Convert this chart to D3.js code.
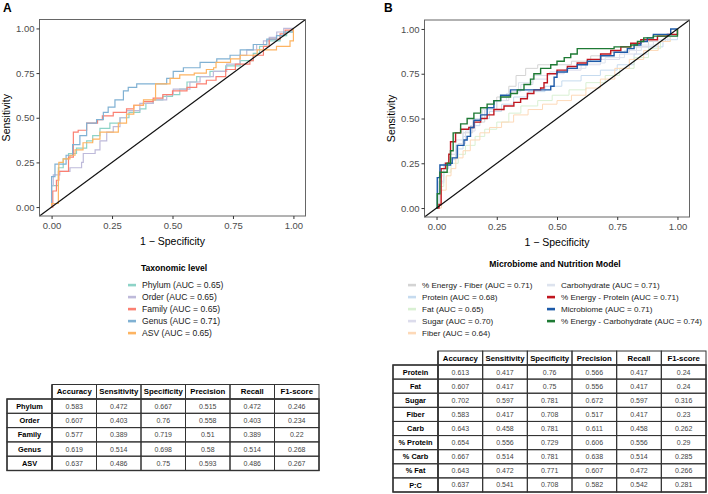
<!DOCTYPE html>
<html>
<head>
<meta charset="utf-8">
<script src="https://cdn.jsdelivr.net/npm/d3@7"></script>
<style>
  body { margin: 0; background: #fff; }
  svg { font-family: "Liberation Sans", Arial, sans-serif; }
</style>
</head>
<body>
<div id="chart"></div>
<script>
// ---- panel A : taxonomic level ROC curves ([fpr, tpr] step corners)
const phylum = [[0,0],[0,0.12],[0.028,0.22],[0.048,0.27],[0.07,0.30],[0.103,0.33],[0.145,0.37],[0.17,0.40],[0.2,0.44],[0.241,0.47],[0.283,0.50],[0.32,0.53],[0.365,0.55],[0.39,0.58],[0.42,0.60],[0.46,0.62],[0.5,0.63],[0.53,0.66],[0.56,0.70],[0.6,0.73],[0.655,0.76],[0.72,0.79],[0.78,0.82],[0.834,0.86],[0.86,0.9],[0.9,0.93],[0.945,0.96],[0.972,0.98],[1,1]];
const order = [[0,0],[0,0.12],[0.007,0.18],[0.034,0.2],[0.076,0.22],[0.124,0.25],[0.131,0.3],[0.18,0.32],[0.2,0.37],[0.228,0.42],[0.255,0.45],[0.283,0.50],[0.31,0.54],[0.365,0.58],[0.42,0.60],[0.476,0.63],[0.503,0.66],[0.572,0.70],[0.614,0.73],[0.669,0.76],[0.724,0.80],[0.779,0.85],[0.807,0.88],[0.848,0.91],[0.876,0.93],[0.9,0.95],[0.931,0.98],[0.96,1],[1,1]];
const family = [[0,0],[0.005,0.09],[0.02,0.15],[0.03,0.2],[0.07,0.28],[0.09,0.42],[0.11,0.43],[0.145,0.47],[0.19,0.49],[0.21,0.51],[0.255,0.53],[0.31,0.55],[0.34,0.57],[0.38,0.59],[0.42,0.61],[0.46,0.63],[0.5,0.65],[0.56,0.67],[0.6,0.69],[0.64,0.71],[0.68,0.73],[0.72,0.77],[0.76,0.80],[0.82,0.82],[0.834,0.85],[0.876,0.90],[0.9,0.94],[0.945,0.97],[0.966,0.99],[1,1]];
const genus = [[0,0],[0,0.17],[0.014,0.24],[0.06,0.29],[0.087,0.35],[0.117,0.40],[0.145,0.47],[0.186,0.49],[0.214,0.53],[0.234,0.56],[0.262,0.60],[0.297,0.65],[0.317,0.67],[0.352,0.69],[0.476,0.72],[0.503,0.76],[0.545,0.78],[0.614,0.81],[0.683,0.83],[0.738,0.85],[0.78,0.88],[0.834,0.91],[0.89,0.94],[0.93,0.96],[0.96,0.98],[1,1]];
const asv = [[0,0],[0,0.02],[0.028,0.2],[0.03,0.25],[0.048,0.27],[0.076,0.29],[0.097,0.32],[0.13,0.36],[0.17,0.38],[0.2,0.42],[0.276,0.47],[0.31,0.52],[0.34,0.57],[0.38,0.6],[0.43,0.69],[0.49,0.72],[0.53,0.74],[0.59,0.75],[0.64,0.77],[0.67,0.78],[0.68,0.81],[0.74,0.83],[0.78,0.85],[0.85,0.88],[0.93,0.90],[0.986,0.93],[1,1]];

const namesA = ["Phylum (AUC = 0.65)", "Order (AUC = 0.65)", "Family (AUC = 0.65)", "Genus (AUC = 0.71)", "ASV (AUC = 0.65)"];
const colorsA = ["#8dd3c7", "#bebada", "#fb8072", "#80b1d3", "#fdb462"];

// ---- panel B : microbiome and nutrition models
const energyFiber = [[0,0],[0.01,0.15],[0.02,0.22],[0.05,0.28],[0.08,0.35],[0.11,0.42],[0.15,0.48],[0.2,0.55],[0.25,0.62],[0.3,0.68],[0.33,0.74],[0.37,0.78],[0.42,0.8],[0.48,0.8],[0.56,0.82],[0.64,0.85],[0.72,0.87],[0.8,0.9],[0.88,0.93],[0.95,0.96],[1,1]];
const protein = [[0,0],[0.01,0.15],[0.03,0.22],[0.05,0.27],[0.08,0.33],[0.11,0.4],[0.14,0.46],[0.18,0.5],[0.22,0.54],[0.27,0.58],[0.32,0.62],[0.38,0.65],[0.45,0.68],[0.52,0.71],[0.6,0.74],[0.68,0.77],[0.75,0.8],[0.82,0.86],[0.88,0.9],[0.94,0.94],[1,1]];
const fat = [[0,0],[0.01,0.12],[0.03,0.2],[0.06,0.25],[0.09,0.3],[0.12,0.35],[0.16,0.4],[0.2,0.44],[0.25,0.48],[0.3,0.53],[0.35,0.57],[0.42,0.6],[0.48,0.63],[0.55,0.66],[0.62,0.7],[0.7,0.74],[0.76,0.78],[0.82,0.84],[0.88,0.89],[0.93,0.93],[0.97,0.96],[1,1]];
const sugar = [[0,0],[0.01,0.14],[0.03,0.24],[0.06,0.3],[0.09,0.36],[0.12,0.43],[0.16,0.5],[0.2,0.55],[0.25,0.6],[0.3,0.65],[0.35,0.69],[0.4,0.72],[0.46,0.75],[0.53,0.77],[0.6,0.8],[0.68,0.83],[0.76,0.86],[0.83,0.9],[0.9,0.93],[0.96,0.96],[1,1]];
const fiber = [[0,0],[0.02,0.1],[0.04,0.18],[0.06,0.22],[0.08,0.28],[0.11,0.32],[0.14,0.38],[0.18,0.42],[0.22,0.45],[0.27,0.48],[0.32,0.52],[0.38,0.55],[0.44,0.58],[0.5,0.6],[0.56,0.63],[0.62,0.67],[0.68,0.72],[0.74,0.78],[0.8,0.83],[0.86,0.88],[0.92,0.93],[0.97,0.97],[1,1]];
const carbohydrate = [[0,0],[0.01,0.18],[0.03,0.25],[0.05,0.3],[0.08,0.38],[0.11,0.44],[0.15,0.5],[0.19,0.55],[0.24,0.6],[0.29,0.64],[0.34,0.7],[0.4,0.74],[0.47,0.76],[0.54,0.78],[0.62,0.81],[0.7,0.84],[0.78,0.88],[0.85,0.91],[0.92,0.94],[0.97,0.97],[1,1]];
const energyProtein = [[0,0],[0.01,0.02],[0.019,0.22],[0.037,0.25],[0.051,0.3],[0.058,0.37],[0.079,0.42],[0.1,0.44],[0.134,0.45],[0.155,0.48],[0.183,0.5],[0.21,0.52],[0.238,0.55],[0.28,0.57],[0.321,0.59],[0.349,0.61],[0.377,0.64],[0.404,0.66],[0.432,0.67],[0.446,0.7],[0.46,0.75],[0.5,0.77],[0.543,0.79],[0.584,0.81],[0.626,0.83],[0.681,0.86],[0.723,0.88],[0.765,0.9],[0.806,0.92],[0.848,0.94],[0.917,0.96],[0.958,0.97],[1,1]];
const microbiome = [[0,0],[0.003,0.17],[0.014,0.24],[0.058,0.25],[0.065,0.28],[0.086,0.35],[0.114,0.38],[0.127,0.40],[0.141,0.45],[0.155,0.49],[0.183,0.52],[0.21,0.56],[0.238,0.60],[0.266,0.63],[0.307,0.66],[0.474,0.68],[0.488,0.73],[0.5,0.76],[0.543,0.78],[0.584,0.80],[0.626,0.82],[0.681,0.85],[0.737,0.87],[0.792,0.89],[0.82,0.91],[0.848,0.93],[0.875,0.95],[0.9,0.97],[0.972,1],[1,1]];
const energyCarb = [[0,0],[0.003,0.08],[0.014,0.2],[0.044,0.25],[0.058,0.32],[0.069,0.42],[0.1,0.47],[0.127,0.5],[0.155,0.53],[0.183,0.56],[0.21,0.58],[0.238,0.6],[0.266,0.62],[0.307,0.64],[0.335,0.66],[0.363,0.69],[0.39,0.72],[0.404,0.75],[0.432,0.78],[0.474,0.8],[0.5,0.82],[0.53,0.84],[0.557,0.86],[0.584,0.89],[0.737,0.9],[0.806,0.91],[0.834,0.93],[0.86,0.95],[0.9,0.96],[1,0.96],[1,1]];

const namesB = ["% Energy - Fiber (AUC = 0.71)", "Protein (AUC = 0.68)", "Fat (AUC = 0.65)", "Sugar (AUC = 0.70)", "Fiber (AUC = 0.64)",
  "Carbohydrate (AUC = 0.71)", "% Energy - Protein (AUC = 0.71)", "Microbiome (AUC = 0.71)", "% Energy - Carbohydrate (AUC = 0.74)"];
const colorsB = ["#d4d4d4", "#c6dbef", "#d9f0d3", "#dcdcec", "#fdd9b8", "#dde3ee", "#c0161f", "#1d5aa8", "#1e7a34"];

// ---- tables
const metricCols = ["Accuracy", "Sensitivity", "Specificity", "Precision", "Recall", "F1-score"];
const rowsA = ["Phylum", "Order", "Family", "Genus", "ASV"];
const valuesA = [
  ["0.583", "0.472", "0.667", "0.515", "0.472", "0.246"],
  ["0.607", "0.403", "0.76", "0.558", "0.403", "0.234"],
  ["0.577", "0.389", "0.719", "0.51", "0.389", "0.22"],
  ["0.619", "0.514", "0.698", "0.58", "0.514", "0.268"],
  ["0.637", "0.486", "0.75", "0.593", "0.486", "0.267"]
];
const rowsB = ["Protein", "Fat", "Sugar", "Fiber", "Carb", "% Protein", "% Carb", "% Fat", "P:C"];
const valuesB = [
  ["0.613", "0.417", "0.76", "0.566", "0.417", "0.24"],
  ["0.607", "0.417", "0.75", "0.556", "0.417", "0.24"],
  ["0.702", "0.597", "0.781", "0.672", "0.597", "0.316"],
  ["0.583", "0.417", "0.708", "0.517", "0.417", "0.23"],
  ["0.643", "0.458", "0.781", "0.611", "0.458", "0.262"],
  ["0.654", "0.556", "0.729", "0.606", "0.556", "0.29"],
  ["0.667", "0.514", "0.781", "0.638", "0.514", "0.285"],
  ["0.643", "0.472", "0.771", "0.607", "0.472", "0.266"],
  ["0.637", "0.541", "0.708", "0.582", "0.542", "0.281"]
];

const ticks = [0, 0.25, 0.5, 0.75, 1];

const svg = d3.select("#chart").append("svg").attr("width", 708).attr("height", 494);

function rocPanel(box, series, colors, widths, label, labelX) {
  const x = d3.scaleLinear().domain([-0.05, 1.05]).range([box.left, box.right]);
  const y = d3.scaleLinear().domain([-0.05, 1.05]).range([box.bottom, box.top]);
  const g = svg.append("g");

  const line = d3.line().x(d => x(d[0])).y(d => y(d[1])).curve(d3.curveStepAfter);
  series.forEach((s, i) => {
    g.append("path").attr("d", line(s)).attr("fill", "none")
      .attr("stroke", colors[i]).attr("stroke-width", widths[i]);
  });

  // chance line, corner to corner
  g.append("line")
    .attr("x1", x(-0.05)).attr("y1", y(-0.05)).attr("x2", x(1.05)).attr("y2", y(1.05))
    .attr("stroke", "#111").attr("stroke-width", 1.2);

  g.append("rect").attr("x", box.left).attr("y", box.top)
    .attr("width", box.right - box.left).attr("height", box.bottom - box.top)
    .attr("fill", "none").attr("stroke", "#666").attr("stroke-width", 1);

  const xa = g.append("g").attr("transform", `translate(0,${box.bottom})`)
    .call(d3.axisBottom(x).tickValues(ticks).tickFormat(d3.format(".2f")).tickSize(3).tickPadding(3));
  const ya = g.append("g").attr("transform", `translate(${box.left},0)`)
    .call(d3.axisLeft(y).tickValues(ticks).tickFormat(d3.format(".2f")).tickSize(3).tickPadding(2));
  [xa, ya].forEach(a => {
    a.select(".domain").remove();
    a.selectAll("line").attr("stroke", "#333");
    a.selectAll("text").attr("fill", "#4d4d4d").style("font-size", "9.5px")
      .style("font-family", "Liberation Sans, Arial, sans-serif");
  });

  g.append("text").attr("x", (x(0) + x(1)) / 2).attr("y", box.bottom + 29)
    .attr("text-anchor", "middle").style("font-size", "10.5px").text("1 \u2212 Specificity");
  g.append("text").attr("transform", `translate(${box.ytitle},${(y(0) + y(1)) / 2}) rotate(-90)`)
    .attr("text-anchor", "middle").style("font-size", "10.5px").text("Sensitivity");

  svg.append("text").attr("x", labelX).attr("y", 12).style("font-size", "12px")
    .style("font-weight", "bold").text(label);
}

rocPanel({ left: 39.5, right: 305.5, top: 19.5, bottom: 216, ytitle: 10 },
  [phylum, order, family, genus, asv], colorsA, [1.2, 1.2, 1.2, 1.2, 1.2], "A", 3);

rocPanel({ left: 424.5, right: 689.5, top: 20, bottom: 217, ytitle: 395 },
  [energyFiber, protein, fat, sugar, fiber, carbohydrate, energyProtein, microbiome, energyCarb],
  colorsB, [1, 1, 1, 1, 1, 1, 1.4, 1.4, 1.4], "B", 384);

function legend(title, titleX, titleY, names, colors, columns, fs) {
  const g = svg.append("g");
  g.append("text").attr("x", titleX).attr("y", titleY).attr("text-anchor", "middle")
    .style("font-size", "8.6px").style("font-weight", "bold").text(title);
  names.forEach((n, i) => {
    const c = columns.find(c => i >= c.start && i < c.start + c.count);
    const yy = 285 + (i - c.start) * 12;
    g.append("rect").attr("x", c.x).attr("y", yy - 1.2).attr("width", 8).attr("height", 2.6)
      .attr("fill", colors[i]);
    g.append("text").attr("x", c.x + 14).attr("y", yy).attr("dy", "0.35em")
      .style("font-size", fs).attr("fill", "#222").text(n);
  });
}

legend("Taxonomic level", 174, 271, namesA, colorsA, [{ start: 0, count: 5, x: 128 }], "8.6px");
legend("Microbiome and Nutrition Model", 555, 267, namesB, colorsB,
  [{ start: 0, count: 5, x: 408 }, { start: 5, count: 4, x: 547 }], "8.1px");

function table(left, labelW, right, top, headH, bottom, rows, values) {
  const g = svg.append("g");
  const cx = d3.scaleBand().domain(metricCols).range([left + labelW, right]);
  const ry = d3.scaleBand().domain(rows).range([top + headH, bottom]);
  const lc = "#333";

  metricCols.forEach(m => {
    g.append("rect").attr("x", cx(m)).attr("y", top).attr("width", cx.bandwidth()).attr("height", headH)
      .attr("fill", "none").attr("stroke", lc).attr("stroke-width", 1);
    g.append("text").attr("x", cx(m) + cx.bandwidth() / 2).attr("y", top + headH / 2).attr("dy", "0.35em")
      .attr("text-anchor", "middle").style("font-size", "7.8px").style("font-weight", "bold").text(m);
  });
  rows.forEach((r, i) => {
    g.append("rect").attr("x", left).attr("y", ry(r)).attr("width", labelW).attr("height", ry.bandwidth())
      .attr("fill", "none").attr("stroke", lc).attr("stroke-width", 1);
    g.append("text").attr("x", left + labelW / 2).attr("y", ry(r) + ry.bandwidth() / 2).attr("dy", "0.35em")
      .attr("text-anchor", "middle").style("font-size", "7.4px").style("font-weight", "bold").text(r);
    metricCols.forEach((m, j) => {
      g.append("rect").attr("x", cx(m)).attr("y", ry(r)).attr("width", cx.bandwidth()).attr("height", ry.bandwidth())
        .attr("fill", "none").attr("stroke", lc).attr("stroke-width", 1);
      g.append("text").attr("x", cx(m) + cx.bandwidth() / 2).attr("y", ry(r) + ry.bandwidth() / 2).attr("dy", "0.35em")
        .attr("text-anchor", "middle").style("font-size", "7px").attr("fill", "#444").text(values[i][j]);
    });
  });
  // heavier separators
  g.append("line").attr("x1", left + labelW).attr("x2", left + labelW).attr("y1", top).attr("y2", bottom)
    .attr("stroke", lc).attr("stroke-width", 1.6);
  g.append("rect").attr("x", left).attr("y", top + headH).attr("width", right - left).attr("height", bottom - top - headH)
    .attr("fill", "none").attr("stroke", lc).attr("stroke-width", 1.4);
}

table(7, 45, 319, 384.5, 14.5, 470.5, rowsA, valuesA);
table(393, 45, 706, 351, 14, 492, rowsB, valuesB);
</script>
</body>
</html>
